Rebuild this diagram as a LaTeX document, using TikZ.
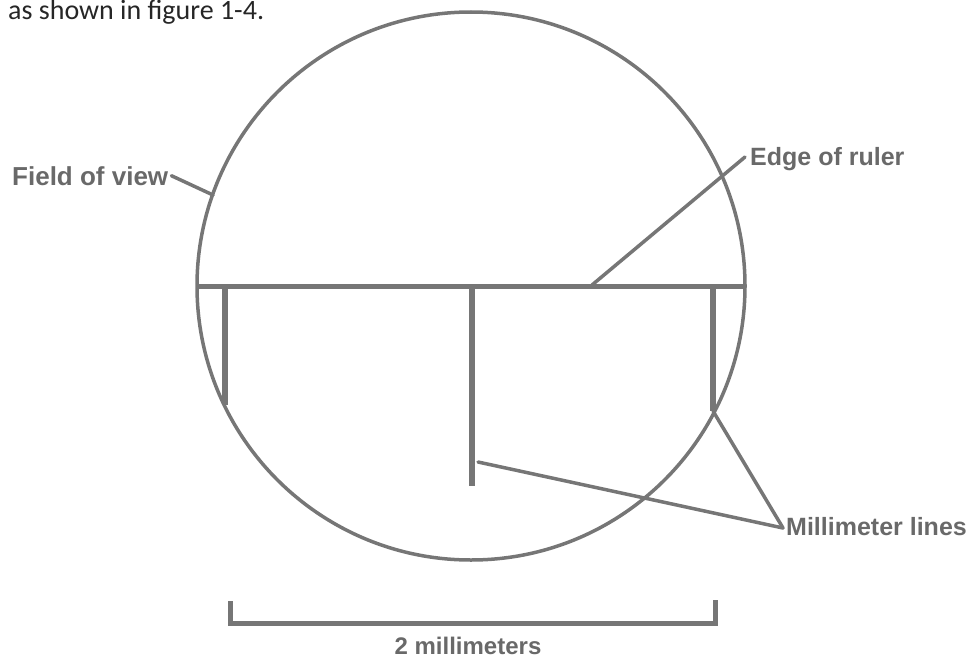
\documentclass[tikz,border=0pt]{standalone}
\usepackage{fontspec}
\setmainfont{Liberation Sans}
\newfontfamily\capfont{Carlito}
\definecolor{ink}{RGB}{118,118,118}
\definecolor{txt}{RGB}{105,105,105}
\tikzset{
  rulerline/.style={draw=ink, line width=5pt},
  tickline/.style={draw=ink, line width=6pt},
  pointer/.style={draw=ink, line width=3.5pt, line cap=round},
  lbl/.style={text=txt, inner sep=0pt, font=\fontsize{25}{28}\selectfont\bfseries},
}
\begin{document}
\begin{tikzpicture}[x=1pt,y=-1pt]
\useasboundingbox (0,0) rectangle (969,661);
% caption
\node[anchor=base west, inner sep=0pt, text=black!85, font=\capfont\fontsize{28}{32}\selectfont] (cap) at (8,20) {as shown in figure 1-4.};
% field of view circle
\node[circle, draw=ink, line width=3.5pt, minimum size=548pt, inner sep=0pt] (field) at (471,286) {};
% ruler
\coordinate (rl) at (197,286);
\coordinate (rr) at (745,286);
\draw[rulerline] (rl) -- (rr);
\coordinate (t1a) at (225,286); \coordinate (t1b) at (225,405);
\coordinate (t2a) at (472,286); \coordinate (t2b) at (472,486);
\coordinate (t3a) at (713,286); \coordinate (t3b) at (713,411);
\draw[tickline] (t1a) -- (t1b);
\draw[tickline] (t2a) -- (t2b);
\draw[tickline] (t3a) -- (t3b);
% labels
\node[lbl, anchor=base west, font=\fontsize{26}{28}\selectfont\bfseries] (fov) at (12,185) {Field of view};
\node[lbl, anchor=base west] (edge) at (750,165) {Edge of ruler};
\node[lbl, anchor=base west] (mm) at (786,535) {Millimeter lines};
% pointers
\coordinate (fovend) at (213,195);
\coordinate (edgeend) at (592,285);
\coordinate (mmstart) at (783,528);
\coordinate (mid) at (478,462);
\draw[pointer] (fov.east) ++(3,0) coordinate (fovstart) -- (fovend);
\draw[pointer] (745,157) coordinate (edgestart) -- (edgeend);
\draw[pointer] (mmstart) -- (t3b);
\draw[pointer] (mmstart) -- (mid);
% scale bracket
\coordinate (bl) at (230,623); \coordinate (br) at (715,623);
\draw[draw=ink, line width=5pt, line join=miter] (230,601) -- (bl) -- (br) -- (715,600);
\node[lbl, anchor=base, font=\fontsize{24}{28}\selectfont\bfseries] (scale) at (468,654) {2 millimeters};
\end{tikzpicture}
\end{document}
